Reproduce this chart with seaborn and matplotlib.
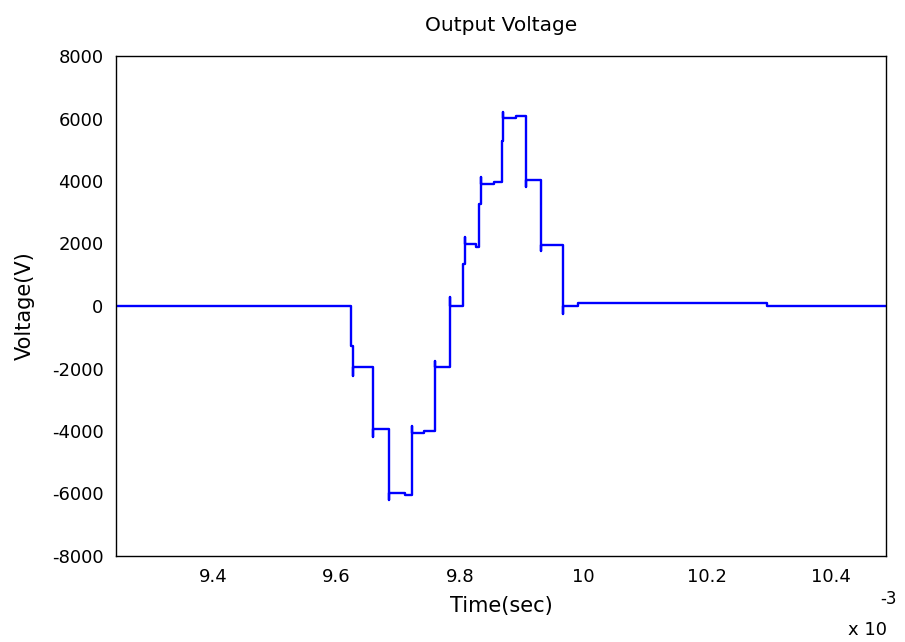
import matplotlib
matplotlib.use("Agg")
import matplotlib.pyplot as plt
import seaborn as sns
import pandas as pd

# waveform breakpoints (time in ms, voltage in V)
time_ms = [9.243, 9.623, 9.623, 9.626, 9.626, 9.626, 9.659, 9.659, 9.659,
           9.685, 9.685, 9.685, 9.711, 9.711, 9.722, 9.722, 9.722, 9.742, 9.742,
           9.760, 9.760, 9.760, 9.784, 9.784, 9.784, 9.805, 9.805, 9.808, 9.808,
           9.808, 9.825, 9.825, 9.831, 9.831, 9.834, 9.834, 9.834, 9.854, 9.854,
           9.867, 9.867, 9.870, 9.870, 9.870, 9.891, 9.891, 9.906, 9.906, 9.906,
           9.930, 9.930, 9.930, 9.967, 9.967, 9.967, 9.990, 9.990, 10.296,
           10.296, 10.489]
voltage = [0, 0, -1280, -1280, -2240, -1950, -1950, -4190, -3930,
           -3930, -6200, -5970, -5970, -6040, -6040, -3830, -4060, -4060, -3990,
           -3990, -1760, -1950, -1950, 290, 0, 0, 1340, 1340, 2200,
           1980, 1980, 1880, 1880, 3260, 3260, 4120, 3900, 3900, 3960,
           3960, 5270, 5270, 6200, 6010, 6010, 6070, 6070, 3800, 4030,
           4030, 1760, 1950, 1950, -260, 0, 0, 100, 100,
           0, 0]

tick_vals = [9.4e-3, 9.6e-3, 9.8e-3, 10.0e-3, 10.2e-3, 10.4e-3]
tick_text = ["9.4", "9.6", "9.8", "10", "10.2", "10.4"]

df = pd.DataFrame({"t": [v * 1e-3 for v in time_ms], "v": voltage})

plt.rcParams["axes.unicode_minus"] = False

fig = plt.figure(figsize=(9.05, 6.42), dpi=100)
ax = fig.add_axes([116 / 905, 1 - 556 / 642, (886 - 116) / 905, (556 - 56) / 642])

sns.lineplot(data=df, x="t", y="v", ax=ax, sort=False, estimator=None,
             color="#0000ff", linewidth=1.7)

ax.set_xlim(9.243e-3, 10.489e-3)
ax.set_ylim(-8000, 8000)
ax.set_yticks(range(-8000, 8001, 2000))
ax.set_xticks(tick_vals)
ax.set_xticklabels(tick_text)

ax.tick_params(length=0, labelsize=13, pad=9)
for s in ax.spines.values():
    s.set_color("black")
    s.set_linewidth(1.0)

ax.set_title("Output Voltage", fontsize=14.5, pad=18)
ax.set_xlabel("Time(sec)", fontsize=15, labelpad=7)
ax.set_ylabel("Voltage(V)", fontsize=15, labelpad=12)

fig.text(848 / 905, 1 - 635 / 642, "x 10", fontsize=13, va="baseline")
fig.text(880 / 905, 1 - 604 / 642, "-3", fontsize=12, va="baseline")

fig.savefig("out.png", dpi=100)
